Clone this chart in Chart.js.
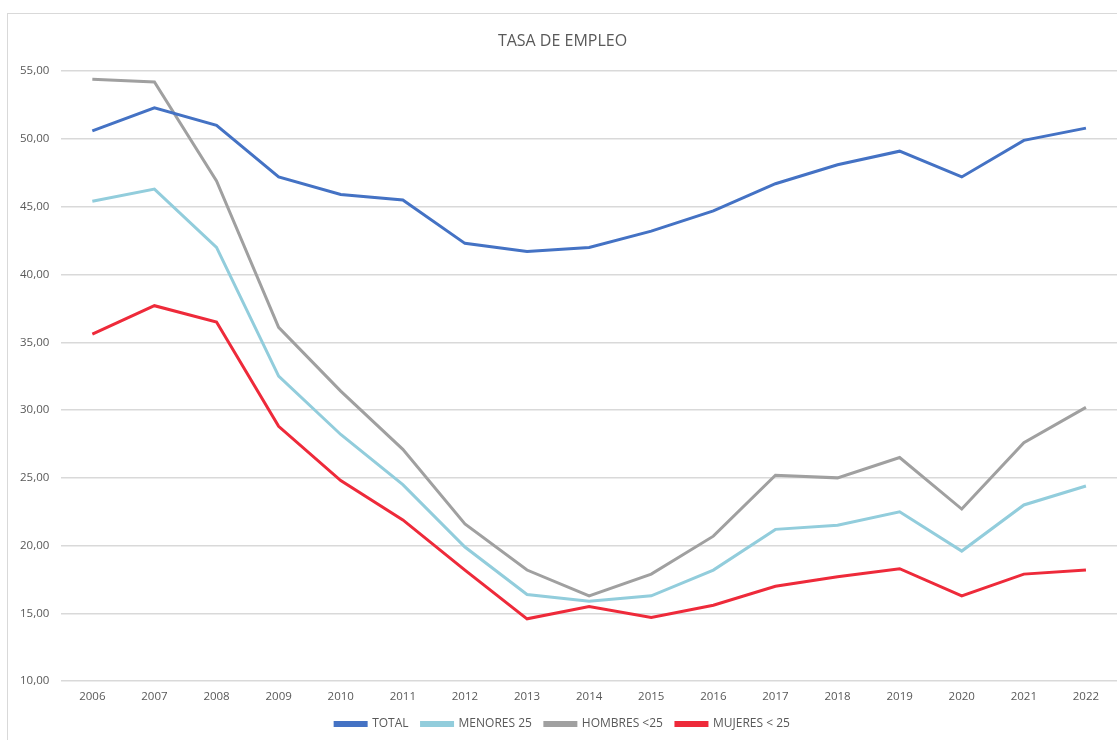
<!DOCTYPE html>
<html>
<head>
<meta charset="utf-8">
<script src="https://cdn.jsdelivr.net/npm/chart.js@4"></script>
<style>
  body { margin: 0; background: #fff; }
  #wrap { position: absolute; left: 7px; top: 13px; width: 1110px; height: 727px; border: 1px solid #d9d9d9; border-right: none; border-bottom: none; box-sizing: border-box; }
</style>
</head>
<body>
<div id="wrap"><canvas id="empleoChart" width="1109" height="726"></canvas></div>
<script>
// datos de la tasa de empleo
const years = ['2006', '2007', '2008', '2009', '2010', '2011', '2012', '2013', '2014', '2015', '2016', '2017', '2018', '2019', '2020', '2021', '2022'];
const total = [50.6, 52.3, 51.0, 47.2, 45.9, 45.5, 42.3, 41.7, 42.0, 43.2, 44.7, 46.7, 48.1, 49.1, 47.2, 49.9, 50.8];
const menores25 = [45.4, 46.3, 42.0, 32.5, 28.2, 24.5, 19.9, 16.4, 15.9, 16.3, 18.2, 21.2, 21.5, 22.5, 19.6, 23.0, 24.4];
const hombres25 = [54.4, 54.2, 46.9, 36.1, 31.4, 27.1, 21.6, 18.2, 16.3, 17.9, 20.7, 25.2, 25.0, 26.5, 22.7, 27.6, 30.2];
const mujeres25 = [35.6, 37.7, 36.5, 28.8, 24.8, 21.9, 18.2, 14.6, 15.5, 14.7, 15.6, 17.0, 17.7, 18.3, 16.3, 17.9, 18.2];

Chart.defaults.font.family = '"Open Sans", sans-serif';
Chart.defaults.color = '#595959';

function serie(label, data, color) {
    return {
        label: label,
        data: data,
        borderColor: color,
        backgroundColor: color,
        borderWidth: 3,
        pointRadius: 0,
        tension: 0,
        fill: false
    };
}

const ctx = document.getElementById('empleoChart').getContext('2d');
const empleoChart = new Chart(ctx, {
    type: 'line',
    data: {
        labels: years,
        datasets: [
            serie('TOTAL', total, '#4472c4'),
            serie('MENORES 25', menores25, '#92cddc'),
            serie('HOMBRES <25', hombres25, '#a0a0a0'),
            serie('MUJERES < 25', mujeres25, '#ee2a3a')
        ]
    },
    options: {
        responsive: false,
        animation: false,
        layout: {
            padding: { left: 0, right: 0, top: 8, bottom: 0 }
        },
        plugins: {
            title: {
                display: true,
                text: 'TASA DE EMPLEO',
                color: '#595959',
                font: { size: 16, weight: 'normal' },
                padding: { top: 10, bottom: 20 }
            },
            legend: {
                position: 'bottom',
                labels: {
                    boxWidth: 31,
                    boxHeight: 3,
                    padding: 13,
                    font: { size: 12 },
                    color: '#595959'
                }
            },
            tooltip: { enabled: false }
        },
        scales: {
            x: {
                offset: true,
                grid: { display: false },
                border: { display: false },
                ticks: { font: { size: 11.5 }, color: '#595959', padding: 1 }
            },
            y: {
                min: 10,
                max: 55,
                ticks: {
                    stepSize: 5,
                    font: { size: 11.5 },
                    color: '#595959',
                    padding: 12,
                    callback: function (v) { return v.toFixed(2).replace('.', ','); }
                },
                grid: { color: '#d9d9d9', lineWidth: 1.5, drawTicks: false },
                border: { display: false }
            }
        }
    }
});
</script>
</body>
</html>
